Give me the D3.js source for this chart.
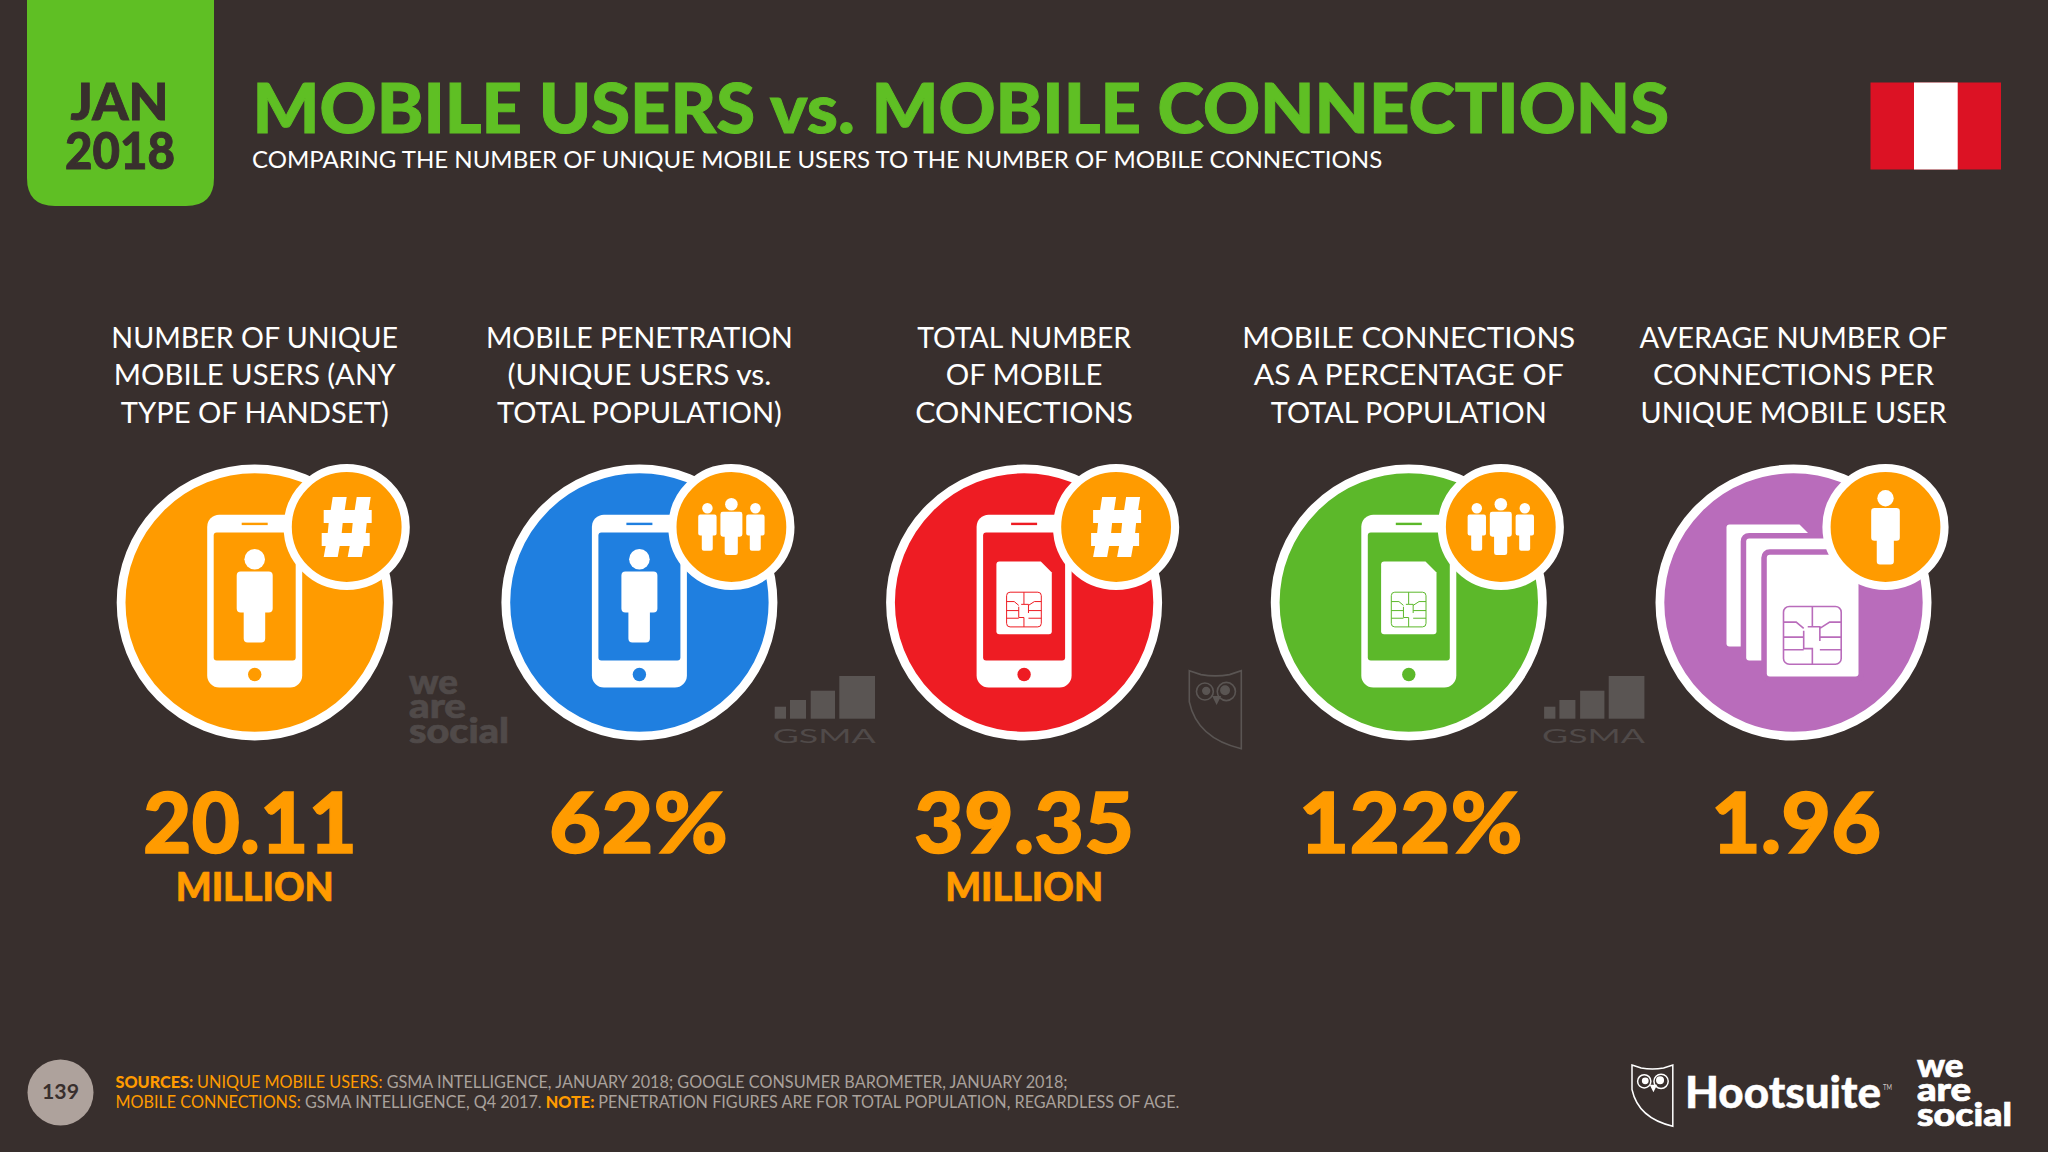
<!DOCTYPE html>
<html>
<head>
<meta charset="utf-8">
<script src="https://d3js.org/d3.v7.min.js"></script>
<style>
  html, body { margin: 0; padding: 0; background: #382f2d; }
  svg { display: block; }
  text { font-family: Lato, "Noto Sans", sans-serif; }
</style>
</head>
<body>
<script>
var w = 2048;
var h = 1152;

// chart content
var panels = ["users", "penetration", "connections", "connPct", "perUser"];
var headers = [
  ["NUMBER OF UNIQUE", "MOBILE USERS (ANY", "TYPE OF HANDSET)"],
  ["MOBILE PENETRATION", "(UNIQUE USERS vs.", "TOTAL POPULATION)"],
  ["TOTAL NUMBER", "OF MOBILE", "CONNECTIONS"],
  ["MOBILE CONNECTIONS", "AS A PERCENTAGE OF", "TOTAL POPULATION"],
  ["AVERAGE NUMBER OF", "CONNECTIONS PER", "UNIQUE MOBILE USER"]
];
var values = ["20.11", "62%", "39.35", "122%", "1.96"];
var units = ["MILLION", "", "MILLION", "", ""];
var screenIcons = ["person", "person", "sim", "sim", "sims"];
var badgeIcons = ["hash", "people", "hash", "people", "person"];
var sourceLine1 = [
  ["SOURCES: ", "key"], ["UNIQUE MOBILE USERS: ", "org"],
  ["GSMA INTELLIGENCE, JANUARY 2018; GOOGLE CONSUMER BAROMETER, JANUARY 2018;", "txt"]
];
var sourceLine2 = [
  ["MOBILE CONNECTIONS: ", "org"], ["GSMA INTELLIGENCE, Q4 2017. ", "txt"], ["NOTE: ", "key"],
  ["PENETRATION FIGURES ARE FOR TOTAL POPULATION, REGARDLESS OF AGE.", "txt"]
];

// text widths measured on the picture, the fonts differ so each is fitted
var headerWidths = [
  [287, 282, 268],
  [307, 264, 285],
  [214, 157, 218],
  [333, 310, 276],
  [308, 281, 306]
];
var valueWidths = [214, 179, 220, 224, 170];
var valueShift = [-4.7, -1, 0, 2, 2.5];

// colours
var bg = "#382f2d";
var green = "#5fbf24";
var orange = "#ff9b00";
var grey = "#a9a19c";
var mark = "#504a49";
var circleColors = ["#ff9b00", "#1f7fe0", "#ee1c23", "#5cb82a", "#b96cbb"];

var svg = d3.select("body").append("svg").attr("width", w).attr("height", h);
svg.append("rect").attr("width", w).attr("height", h).attr("fill", bg);

// puts a text on a baseline, squeezing it sideways to the wanted width
function label(g, str, x, y, size, weight, fill, width, anchor) {
  var t = g.append("text")
    .attr("font-size", size)
    .attr("font-weight", weight)
    .attr("fill", fill)
    .attr("text-anchor", anchor || "start")
    .text(str);
  squeeze(t, x, y, width);
  return t;
}
function squeeze(t, x, y, width) {
  var sx = width ? width / t.node().getComputedTextLength() : 1;
  t.attr("transform", "translate(" + x + "," + y + ") scale(" + sx + ",1)");
}
// the reference face is heavier than Lato Black
function heavier(t, sw) {
  return t.attr("stroke", t.attr("fill")).attr("stroke-width", sw);
}

// header
svg.append("path")
  .attr("d", "M27,0H214V178Q214,206 186,206H55Q27,206 27,178Z")
  .attr("fill", green);
heavier(label(svg, "JAN", 119.6, 120, 51, 900, bg, 98, "middle"), 0.9);
heavier(label(svg, "2018", 120, 169, 51, 900, bg, 110, "middle"), 0.9);
heavier(label(svg, "MOBILE USERS vs. MOBILE CONNECTIONS", 252.5, 133, 69, 900, green, 1417), 1);
label(svg, "COMPARING THE NUMBER OF UNIQUE MOBILE USERS TO THE NUMBER OF MOBILE CONNECTIONS", 252, 168, 24, 400, "#fff", 1131);

// flag
svg.append("rect").attr("x", 1870.5).attr("y", 82.5).attr("width", 130.5).attr("height", 87).attr("fill", "#dc1224");
svg.append("rect").attr("x", 1914).attr("y", 82.5).attr("width", 43.7).attr("height", 87).attr("fill", "#fff");

// icons, all drawn round a local 0,0
function person(g, s, dx, dy) {
  var p = g.append("g").attr("transform", "translate(" + dx + "," + dy + ") scale(" + s + ")").attr("fill", "#fff");
  p.append("circle").attr("cy", -43.3).attr("r", 10.3);
  p.append("path").attr("d", "M-14,-31H14Q18,-31 18,-27V6Q18,10 14,10H10.5V36Q10.5,40 6.5,40H-7Q-11,40 -11,36V10H-14Q-18,10 -18,6V-27Q-18,-31 -14,-31Z");
}
function simPath(x, y, sw, sh, cut) {
  var r = 3;
  return "M" + (x + r) + "," + y + "H" + (x + sw - cut) + "L" + (x + sw) + "," + (y + cut) +
    "V" + (y + sh - r) + "Q" + (x + sw) + "," + (y + sh) + " " + (x + sw - r) + "," + (y + sh) +
    "H" + (x + r) + "Q" + x + "," + (y + sh) + " " + x + "," + (y + sh - r) +
    "V" + (y + r) + "Q" + x + "," + y + " " + (x + r) + "," + y + "Z";
}
function chip(g, x, y, s, color, sw) {
  var c = g.append("g").attr("transform", "translate(" + x + "," + y + ") scale(" + s + ")")
    .attr("fill", "none").attr("stroke", color).attr("stroke-width", sw / s);
  c.append("rect").attr("width", 1).attr("height", 1).attr("rx", 0.1);
  c.append("path").attr("d", "M.5,0V.35H.42M.5,.35H.63V.6M.35,.42V.73H.5V1" +
    "M0,.27H.22L.35,.38M0,.53H.35M0,.75H.35M1,.27H.8L.63,.38M1,.53H.63M1,.75H.63");
}
function phone(g, color) {
  g.append("rect").attr("x", -47.5).attr("y", -87.7).attr("width", 95).attr("height", 172.7).attr("rx", 12).attr("fill", "#fff");
  g.append("rect").attr("x", -41).attr("y", -70).attr("width", 82).attr("height", 128).attr("rx", 3).attr("fill", color);
  g.append("rect").attr("x", -13).attr("y", -79.8).attr("width", 26).attr("height", 2.4).attr("fill", color);
  g.append("circle").attr("cy", 72).attr("r", 6.7).attr("fill", color);
}
function hash(g) {
  g.append("path").attr("fill", "#fff")
    .attr("d", "M-14,-30H0L-2,-17H8L10,-30H24L22,-17H25V-4H20L19,6H23V19H17L15,30H1L3,19H-7L-9,30H-23L-21,19H-25V6H-19L-18,-4H-23V-17H-16ZM-4,-4L-5,6H5L6,-4Z")
    .attr("fill-rule", "evenodd");
}
function owl(g, x, y, s, color, sw) {
  var o = g.append("g").attr("transform", "translate(" + x + "," + y + ") scale(" + s + ")")
    .attr("fill", "none").attr("stroke", color).attr("stroke-width", sw / s);
  o.append("path").attr("d", "M0,0L9,3Q20,5 31,3L40,0V60Q6,52 0,24Z");
  o.append("circle").attr("cx", 12).attr("cy", 16).attr("r", 6.5);
  o.append("circle").attr("cx", 28.5).attr("cy", 16).attr("r", 7);
  o.append("circle").attr("cx", 13).attr("cy", 15.5).attr("r", 2.6).attr("fill", color);
  o.append("circle").attr("cx", 27.5).attr("cy", 15).attr("r", 3.2).attr("fill", color);
  o.append("path").attr("d", "M18.5,20L21,25L23.5,20Z").attr("fill", color);
}
function gsma(g, x, y) {
  var bars = g.append("g").attr("transform", "translate(" + x + "," + y + ")").attr("fill", "#5a5553");
  bars.append("rect").attr("x", 0).attr("y", 30.7).attr("width", 11.3).attr("height", 12);
  bars.append("rect").attr("x", 15.3).attr("y", 24).attr("width", 16).attr("height", 18.7);
  bars.append("rect").attr("x", 36).attr("y", 14.7).attr("width", 24.3).attr("height", 28);
  bars.append("rect").attr("x", 64.6).attr("y", 0).attr("width", 35.7).attr("height", 42.7);
  label(g, "GSMA", x - 2, y + 66.7, 20, 400, mark, 103);
}
function weAreSocial(g, x, y, size, color, width) {
  heavier(label(g, "we", x, y, size, 900, color, width * 0.49), 0.7);
  heavier(label(g, "are", x, y + 24, size, 900, color, width * 0.57), 0.7);
  heavier(label(g, "social", x, y + 48.5, size, 900, color, width), 0.7);
}

// panels
var x = d3.scalePoint().domain(panels).range([254.7, 1793.5]);
var cy = 602.5;

var panel = svg.selectAll("g.panel")
  .data(panels)
  .enter()
  .append("g")
    .attr("class", "panel");

panel.each(function(d, i) {
  var g = d3.select(this);
  var cx = x(d);
  var color = circleColors[i];

  headers[i].forEach(function(line, j) {
    label(g, line, cx, 347.7 + j * 37.5, 29, 400, "#fff", headerWidths[i][j], "middle");
  });

  var icon = g.append("g").attr("transform", "translate(" + cx + "," + cy + ")");
  icon.append("circle").attr("r", 133.6).attr("fill", color).attr("stroke", "#fff").attr("stroke-width", 8.8);

  if (screenIcons[i] === "sims") {
    icon.append("path").attr("d", simPath(-67, -78, 84, 122, 11)).attr("fill", "#fff");
    icon.append("path").attr("d", simPath(-47.3, -64, 90, 122, 12)).attr("fill", "#fff")
      .attr("stroke", color).attr("stroke-width", 11).style("paint-order", "stroke");
    icon.append("path").attr("d", simPath(-26.7, -47.7, 91.7, 121.7, 14)).attr("fill", "#fff")
      .attr("stroke", color).attr("stroke-width", 11).style("paint-order", "stroke");
    chip(icon, -10, 4, 57.7, color, 1.6);
  } else {
    phone(icon, color);
    if (screenIcons[i] === "person") {
      person(icon, 1, 0, 0);
    } else {
      icon.append("path").attr("d", simPath(-27.7, -41, 55.4, 72.7, 11)).attr("fill", "#fff");
      chip(icon, -17.5, -10.3, 34.7, color, 1);
    }
  }

  var badge = icon.append("g").attr("transform", "translate(92,-75.5)");
  badge.append("circle").attr("r", 59).attr("fill", orange).attr("stroke", "#fff").attr("stroke-width", 8.2);
  if (badgeIcons[i] === "hash") {
    hash(badge);
  } else if (badgeIcons[i] === "people") {
    person(badge, 0.61, 0, 3.7);
    person(badge, 0.51, -24, 3.4);
    person(badge, 0.51, 24, 3.4);
  } else {
    person(badge, 0.795, 0, 5.7);
  }

  heavier(label(g, values[i], cx + valueShift[i], 853, 84, 900, orange, valueWidths[i], "middle"), 1.4);
  if (units[i]) heavier(label(g, units[i], cx, 900.7, 40, 900, orange, 158, "middle"), 0.7);
});

// faint logos next to the circles
weAreSocial(svg, 409, 694, 34, mark, 100);
gsma(svg, x("penetration") + 135.3, 676);
gsma(svg, x("connPct") + 135.3, 676);
owl(svg, 1189.3, 670.7, 1.3, "#5a5553", 1.6);

// footer
svg.append("circle").attr("cx", 60.5).attr("cy", 1092.5).attr("r", 33).attr("fill", "#aea29c");
label(svg, "139", 60.5, 1099, 20, 700, bg, 37, "middle");

var sourceColor = { key: orange, org: orange, txt: grey };
function sourceText(segments, y, width) {
  var t = svg.append("text").attr("font-size", 16.5);
  segments.forEach(function(s) {
    t.append("tspan")
      .attr("fill", sourceColor[s[1]])
      .attr("font-weight", s[1] === "key" ? 900 : 400)
      .text(s[0]);
  });
  squeeze(t, 115.5, y, width);
}
sourceText(sourceLine1, 1088, 952.5);
sourceText(sourceLine2, 1107.5, 1064.5);

owl(svg, 1632, 1065, 1.02, "#fff", 1.5);
heavier(label(svg, "Hootsuite", 1685, 1108, 44, 900, "#fff", 196), 0.4);
label(svg, "TM", 1883, 1090, 7, 400, "#cfcac8", 9);
weAreSocial(svg, 1917, 1077, 32, "#fff", 95);
</script>
</body>
</html>
